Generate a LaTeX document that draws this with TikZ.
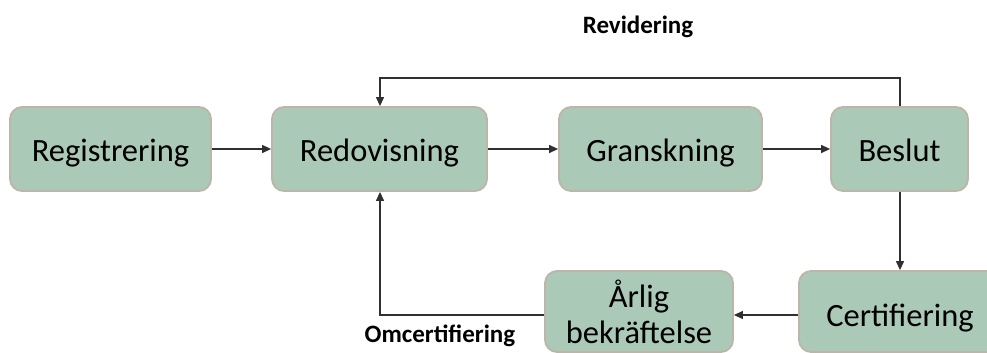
\documentclass[tikz,border=0pt]{standalone}
\usepackage{fontspec}
\setmainfont{Carlito}
\usetikzlibrary{arrows.meta}
\definecolor{boxfill}{HTML}{ABC9B7}
\definecolor{boxdraw}{HTML}{BDB5AA}
\definecolor{linec}{HTML}{303030}
\begin{document}
\begin{tikzpicture}[x=1pt,y=-1pt,
  stepbox/.style={draw=boxdraw,line width=1.8pt,fill=boxfill,rounded corners=12pt,
    minimum height=84pt,inner sep=0pt,font=\fontsize{32.5}{39}\selectfont,align=center},
  oneline/.style={text height=33pt,text depth=8pt},
  conn/.style={draw=linec,line width=1.2pt,-{Triangle[length=9pt,width=8pt]}},
  lbl/.style={font=\fontsize{25}{30}\selectfont\bfseries}]
\useasboundingbox (0,0) rectangle (987,353);
\clip (0,0) rectangle (987,353);
\node[stepbox,oneline,minimum width=201pt] (reg) at (110.5,149) {Registrering};
\node[stepbox,oneline,minimum width=215pt] (red) at (379.5,149) {Redovisning};
\node[stepbox,oneline,minimum width=203pt] (gra) at (660.5,149) {Granskning};
\node[stepbox,oneline,minimum width=137pt] (bes) at (899.5,149) {Beslut};
\node[stepbox,text height=36pt,text depth=6pt,minimum width=202pt,minimum height=81pt] (cer) at (900,311.5) {Certifiering};
\node[stepbox,minimum width=188pt,minimum height=81pt] (arl) at (639,311.5) {Årlig\\[-3pt]bekräftelse};
\coordinate (rtop) at (900,78);
\coordinate (rbot) at (380,315);
\draw[conn] (reg) -- (red);
\draw[conn] (red) -- (gra);
\draw[conn] (gra) -- (bes);
\draw[conn] (bes.north -| rtop) |- (rtop) -| (red.north -| rbot);
\draw[conn] (bes.south -| rtop) -- (cer.north -| rtop);
\draw[conn] (cer.west |- rbot) -- (arl.east |- rbot);
\draw[conn] (arl.west |- rbot) -| (red.south -| rbot);
\node[lbl] (rev) at (638,27) {Revidering};
\node[lbl] (omc) at (440,336) {Omcertifiering};
\end{tikzpicture}
\end{document}
